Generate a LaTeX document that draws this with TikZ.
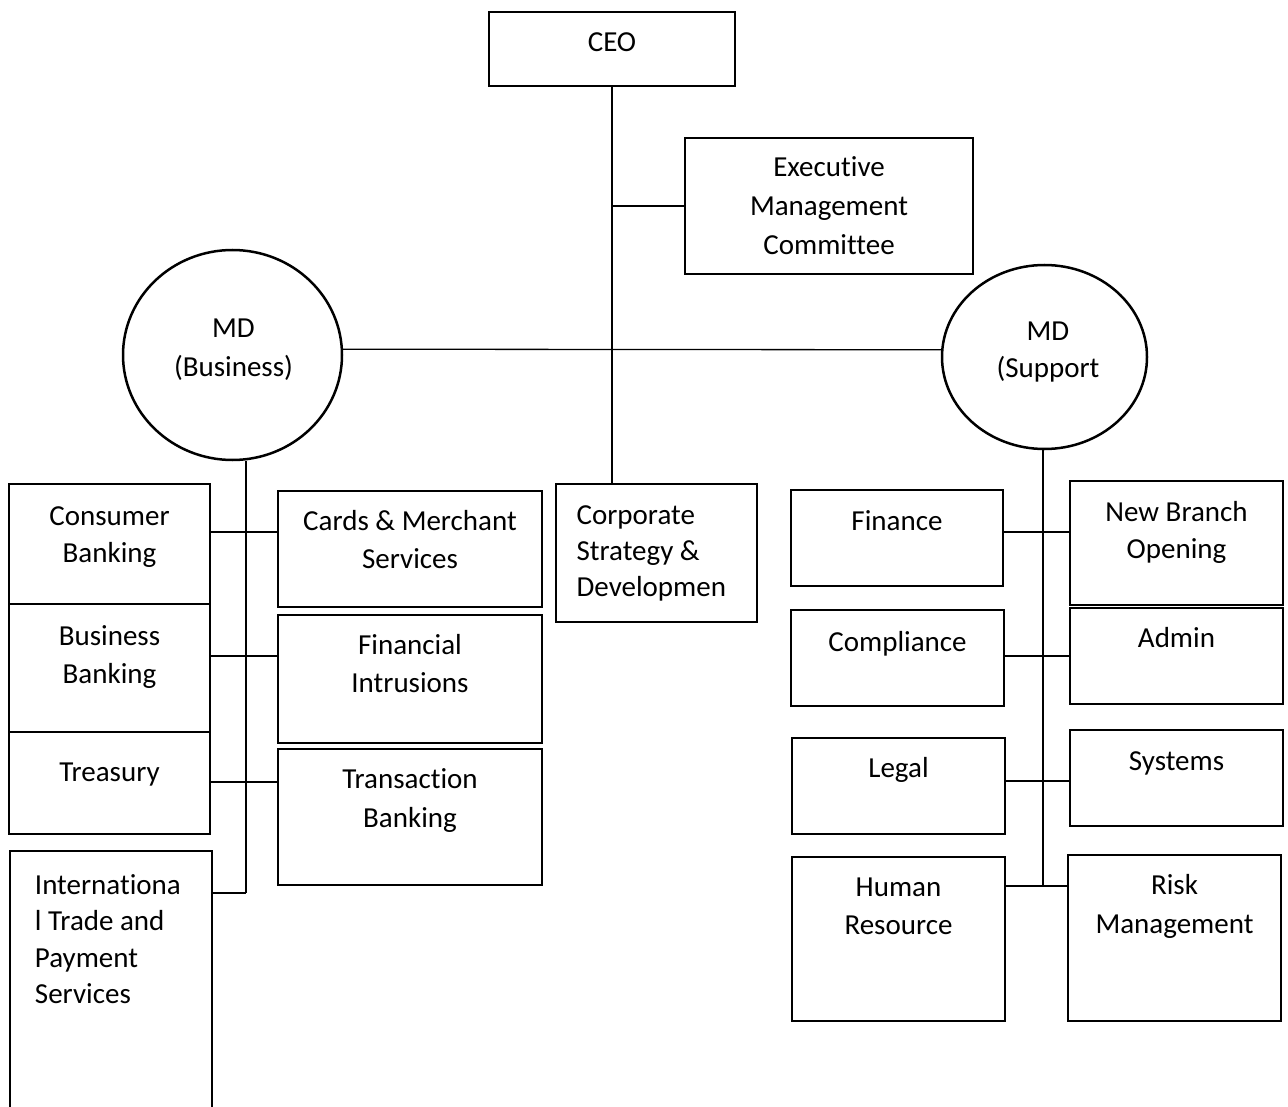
\documentclass[tikz,border=0pt]{standalone}
\usepackage{fontspec}
\setmainfont{Carlito}[Ligatures={NoCommon}]
\usetikzlibrary{shapes.geometric}
\newcommand{\fbase}[1]{\rule{0pt}{#1pt}}
\begin{document}
\begin{tikzpicture}[x=1pt,y=-1pt,
  thickbox/.style={draw, line width=2.5pt, rectangle, inner sep=0pt},
  thinbox/.style={draw, line width=1.2pt, rectangle, inner sep=0pt},
  mdcircle/.style={draw, line width=2.5pt, ellipse, inner sep=0pt},
  conn/.style={line width=1.3pt},
  txt/.style={anchor=north, inner sep=0pt, yshift=-1.5pt, align=center, font=\fontsize{29}{38}\selectfont},
  ltxt/.style={anchor=north west, inner sep=0pt, yshift=-1.5pt, align=left, font=\fontsize{29}{36.5}\selectfont},
]
\useasboundingbox (0,0) rectangle (1288,1107);

% top
\node[thickbox, minimum width=246pt, minimum height=74pt,
  label={[txt]north:{\fbase{39}CEO}}] (ceo) at (612,49) {};
\node[thickbox, minimum width=288pt, minimum height=136pt,
  label={[txt, font=\fontsize{29}{39}\selectfont]north:{\fbase{38}Executive\\Management\\Committee}}] (emc) at (829,206) {};

% managing directors
\node[mdcircle, minimum width=219pt, minimum height=210pt,
  label={[txt, xshift=1pt, font=\fontsize{29}{39}\selectfont]north:{\fbase{87}MD\\(Business)}}] (mdb) at (232.5,355) {};
\node[mdcircle, minimum width=205pt, minimum height=184pt,
  label={[txt, xshift=3.5pt, font=\fontsize{29}{37}\selectfont]north:{\fbase{75}MD\\(Support}}] (mds) at (1044.5,357) {};

% business column (left)
\node[thickbox, minimum width=201pt, minimum height=120pt,
  label={[txt, font=\fontsize{29}{37}\selectfont]north:{\fbase{41}Consumer\\Banking}}] (cons) at (109.5,544) {};
\node[thickbox, minimum width=201pt, minimum height=128pt,
  label={[txt, font=\fontsize{29}{38}\selectfont]north:{\fbase{41}Business\\Banking}}] (bus) at (109.5,668) {};
\node[thickbox, minimum width=201pt, minimum height=102pt,
  label={[txt]north:{\fbase{49}Treasury}}] (treas) at (109.5,783) {};
\node[thickbox, minimum width=202pt, minimum height=264pt,
  label={[ltxt, xshift=26pt]north west:{\fbase{43}Internationa\\l Trade and\\Payment\\Services}}] (intl) at (111,983) {};

\node[thinbox, minimum width=264pt, minimum height=116pt,
  label={[txt]north:{\fbase{38}Cards \& Merchant\\Services}}] (cards) at (410,549) {};
\node[thinbox, minimum width=264pt, minimum height=128pt,
  label={[txt]north:{\fbase{38}Financial\\Intrusions}}] (finint) at (410,679) {};
\node[thinbox, minimum width=264pt, minimum height=136pt,
  label={[txt, font=\fontsize{29}{39}\selectfont]north:{\fbase{38}Transaction\\Banking}}] (trans) at (410,817) {};

% centre
\node[thinbox, minimum width=201pt, minimum height=138pt,
  label={[ltxt, xshift=21pt, font=\fontsize{29}{36}\selectfont]north west:{\fbase{39}Corporate\\Strategy \&\\Developmen}}] (cs) at (656.5,553) {};

% support column (right)
\node[thinbox, minimum width=212pt, minimum height=96pt,
  label={[txt]north:{\fbase{39}Finance}}] (fin) at (897,538) {};
\node[thinbox, minimum width=213pt, minimum height=124pt,
  label={[txt, font=\fontsize{29}{37}\selectfont]north:{\fbase{39}New Branch\\Opening}}] (nbo) at (1176.5,543) {};
\node[thinbox, minimum width=213pt, minimum height=96pt,
  label={[txt]north:{\fbase{40}Compliance}}] (compl) at (897.5,658) {};
\node[thinbox, minimum width=213pt, minimum height=96pt,
  label={[txt]north:{\fbase{38}Admin}}] (admin) at (1176.5,656) {};
\node[thinbox, minimum width=213pt, minimum height=96pt,
  label={[txt]north:{\fbase{38}Legal}}] (legal) at (898.5,786) {};
\node[thinbox, minimum width=213pt, minimum height=96pt,
  label={[txt]north:{\fbase{39}Systems}}] (sys) at (1176.5,778) {};
\node[thinbox, minimum width=213pt, minimum height=164pt,
  label={[txt]north:{\fbase{38}Human\\Resource}}] (hr) at (898.5,939) {};
\node[thinbox, minimum width=213pt, minimum height=166pt,
  label={[txt, font=\fontsize{29}{39}\selectfont]north:{\fbase{38}Risk\\Management}}] (risk) at (1174.5,938) {};

% helper coordinates for connector rows
\coordinate (ly1) at (0,532);
\coordinate (ly2) at (0,656);
\coordinate (ly3) at (0,782);
\coordinate (lbot) at (246,893);
\coordinate (ry1) at (0,532);
\coordinate (ry2) at (0,656);
\coordinate (ry3) at (0,781);
\coordinate (rbot) at (1043,886);

% connectors
\draw[conn] (ceo.south) -- (ceo.south |- cs.north);
\draw[conn] (ceo.south |- emc.west) -- (emc.west);
\draw[conn] (mdb.3) -- (mds.176);

\draw[conn] (lbot |- mdb.south) -- (lbot);
\draw[conn] (cons.east |- ly1) -- (cards.west |- ly1);
\draw[conn] (bus.east |- ly2) -- (finint.west |- ly2);
\draw[conn] (treas.east |- ly3) -- (trans.west |- ly3);
\draw[conn] (intl.east |- lbot) -- (lbot);

\draw[conn] (rbot |- mds.south) -- (rbot);
\draw[conn] (fin.east |- ry1) -- (nbo.west |- ry1);
\draw[conn] (compl.east |- ry2) -- (admin.west |- ry2);
\draw[conn] (legal.east |- ry3) -- (sys.west |- ry3);
\draw[conn] (hr.east |- rbot) -- (risk.west |- rbot);
\end{tikzpicture}
\end{document}
